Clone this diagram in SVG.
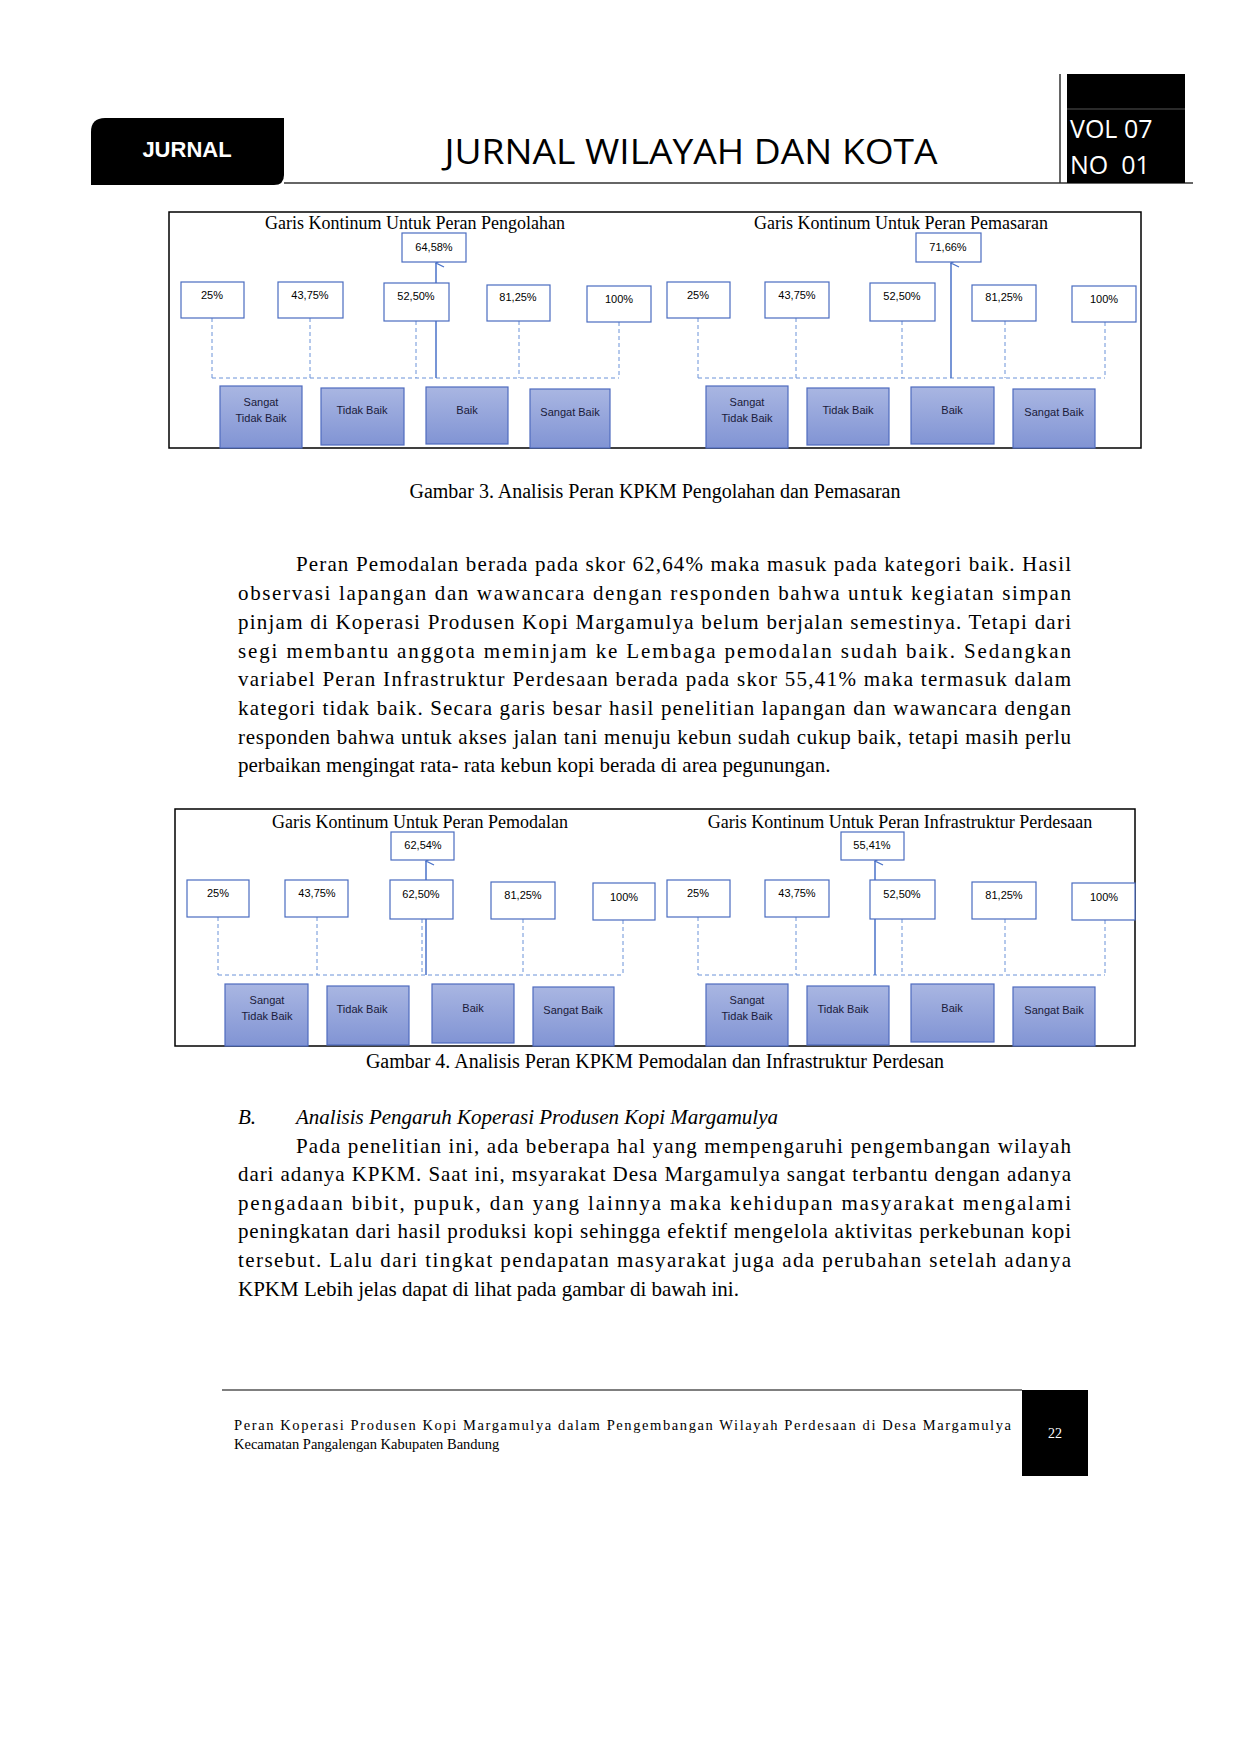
<svg xmlns="http://www.w3.org/2000/svg" width="1240" height="1754" viewBox="0 0 1240 1754">
<style>
.ser{font-family:"Liberation Serif","Times New Roman",serif;fill:#000}
.body{font-size:21px}
.ttl{font-size:18px;text-anchor:middle}
.cap{font-size:20px;text-anchor:middle}
.val rect{fill:#fff;stroke:#4a6cc0;stroke-width:1.2}
.val text,.cat text{font-family:"Liberation Sans",Arial,sans-serif;font-size:11px;text-anchor:middle}
.val text{fill:#000}
.cat rect{fill:url(#g);stroke:#4f6bbf;stroke-width:1.2}
.cat text{fill:#1a1a3a}
.dash{stroke:#6a92d8;stroke-width:1;stroke-dasharray:4 3;fill:none}
.arr{stroke:#4a72c8;stroke-width:1.5;fill:none}
.frame{fill:none;stroke:#000;stroke-width:1.5}
</style>
<defs>
<linearGradient id="g" x1="0" y1="0" x2="0" y2="1"><stop offset="0" stop-color="#a9b6e2"/><stop offset="1" stop-color="#8194d4"/></linearGradient>
<marker id="ah" viewBox="0 0 10 10" refX="5" refY="1" markerWidth="10" markerHeight="10" orient="auto-start-reverse" markerUnits="userSpaceOnUse"><path d="M1,9 L5,1 L9,9" fill="none" stroke="#4a72c8" stroke-width="1.3"/></marker>
</defs>
<rect width="1240" height="1754" fill="#fff"/>
<!-- header -->
<g id="header">
<path d="M105,118 H284 V175 Q284,185 274,185 H91 V132 Q91,118 105,118 Z" fill="#000"/>
<text x="187" y="157" font-family="Liberation Sans,Arial,sans-serif" font-size="22" font-weight="bold" fill="#fff" text-anchor="middle">JURNAL</text>
<text x="691" y="164" font-family="Open Sans,Liberation Sans,sans-serif" font-size="34" text-anchor="middle" textLength="493" lengthAdjust="spacingAndGlyphs">JURNAL WILAYAH DAN KOTA</text>
<line x1="284" y1="183" x2="1193" y2="183" stroke="#333" stroke-width="1.5"/>
<line x1="1060" y1="74" x2="1060" y2="183" stroke="#333" stroke-width="1.5"/>
<rect x="1067" y="74" width="118" height="109" fill="#000"/>
<line x1="1067" y1="109" x2="1185" y2="109" stroke="#555" stroke-width="1"/>
<text x="1070" y="138" font-family="Open Sans,Liberation Sans,sans-serif" font-size="25" fill="#fff">VOL 07</text>
<text x="1070" y="174" font-family="Open Sans,Liberation Sans,sans-serif" font-size="25" fill="#fff" xml:space="preserve">NO  01</text>
</g>
<!-- Figure 3 -->
<g id="fig3">
<rect class="frame" x="169" y="212" width="972" height="236"/>
<text class="ser ttl" x="415" y="229">Garis Kontinum Untuk Peran Pengolahan</text>
<text class="ser ttl" x="901" y="229">Garis Kontinum Untuk Peran Pemasaran</text>
<g id="f3-connectors">
<path class="dash" d="M212,318 V378 M310,318 V378 M416,321 V378 M519,321 V378 M619,322 V378 M212,378 H619"/>
<path class="dash" d="M698,318 V378 M796,318 V378 M902,321 V378 M1005,321 V378 M1105,322 V378 M698,378 H1105"/>
<line class="arr" x1="436" y1="378" x2="436" y2="263" marker-end="url(#ah)"/>
<line class="arr" x1="951" y1="378" x2="951" y2="263" marker-end="url(#ah)"/>
</g>
<g id="f3-top-l" class="val"><rect x="402" y="233" width="64" height="29"/><text x="434" y="251">64,58%</text></g>
<g id="f3-top-r" class="val"><rect x="916" y="233" width="65" height="29"/><text x="948" y="251">71,66%</text></g>
<g id="f3-left-vals" class="val">
<rect x="181" y="282" width="63" height="36"/><text x="212" y="299">25%</text>
<rect x="278" y="282" width="65" height="36"/><text x="310" y="299">43,75%</text>
<rect x="384" y="283" width="65" height="38"/><text x="416" y="300">52,50%</text>
<rect x="487" y="285" width="63" height="36"/><text x="518" y="301">81,25%</text>
<rect x="587" y="286" width="64" height="36"/><text x="619" y="303">100%</text>
</g>
<g id="f3-right-vals" class="val">
<rect x="667" y="282" width="63" height="36"/><text x="698" y="299">25%</text>
<rect x="765" y="282" width="64" height="36"/><text x="797" y="299">43,75%</text>
<rect x="870" y="283" width="65" height="38"/><text x="902" y="300">52,50%</text>
<rect x="972" y="285" width="64" height="36"/><text x="1004" y="301">81,25%</text>
<rect x="1072" y="286" width="64" height="36"/><text x="1104" y="303">100%</text>
</g>
<g id="f3-left-cats" class="cat">
<rect x="220" y="386" width="82" height="62"/><text x="261" y="406">Sangat</text><text x="261" y="422">Tidak Baik</text>
<rect x="321" y="388" width="83" height="57"/><text x="362" y="414">Tidak Baik</text>
<rect x="426" y="387" width="82" height="57"/><text x="467" y="414">Baik</text>
<rect x="530" y="389" width="80" height="59"/><text x="570" y="416">Sangat Baik</text>
</g>
<g id="f3-right-cats" class="cat">
<rect x="706" y="386" width="82" height="62"/><text x="747" y="406">Sangat</text><text x="747" y="422">Tidak Baik</text>
<rect x="807" y="388" width="82" height="57"/><text x="848" y="414">Tidak Baik</text>
<rect x="911" y="387" width="83" height="57"/><text x="952" y="414">Baik</text>
<rect x="1013" y="389" width="82" height="59"/><text x="1054" y="416">Sangat Baik</text>
</g>
</g>
<text class="ser cap" x="655" y="498">Gambar 3. Analisis Peran KPKM Pengolahan dan Pemasaran</text>
<!-- paragraph 1 -->
<g class="ser body">
<text x="296" y="571" textLength="775" lengthAdjust="spacing">Peran Pemodalan berada pada skor 62,64% maka masuk pada kategori baik. Hasil</text>
<text x="238" y="600" textLength="833" lengthAdjust="spacing">observasi lapangan dan wawancara dengan responden bahwa untuk kegiatan simpan</text>
<text x="238" y="629" textLength="833" lengthAdjust="spacing">pinjam di Koperasi Produsen Kopi Margamulya belum berjalan semestinya. Tetapi dari</text>
<text x="238" y="658" textLength="833" lengthAdjust="spacing">segi membantu anggota meminjam ke Lembaga pemodalan sudah baik. Sedangkan</text>
<text x="238" y="686" textLength="833" lengthAdjust="spacing">variabel Peran Infrastruktur Perdesaan berada pada skor 55,41% maka termasuk dalam</text>
<text x="238" y="715" textLength="833" lengthAdjust="spacing">kategori tidak baik. Secara garis besar hasil penelitian lapangan dan wawancara dengan</text>
<text x="238" y="744" textLength="833" lengthAdjust="spacing">responden bahwa untuk akses jalan tani menuju kebun sudah cukup baik, tetapi masih perlu</text>
<text x="238" y="772">perbaikan mengingat rata- rata kebun kopi berada di area pegunungan.</text>
</g>
<!-- Figure 4 -->
<g id="fig4">
<rect class="frame" x="175" y="809" width="960" height="237"/>
<text class="ser ttl" x="420" y="828">Garis Kontinum Untuk Peran Pemodalan</text>
<text class="ser ttl" x="900" y="828">Garis Kontinum Untuk Peran Infrastruktur Perdesaan</text>
<g id="f4-connectors">
<path class="dash" d="M218,917 V975 M317,917 V975 M422,919 V975 M523,919 V975 M623,920 V975 M218,975 H623"/>
<path class="dash" d="M698,917 V975 M796,917 V975 M902,919 V975 M1005,919 V975 M1105,920 V975 M698,975 H1105"/>
<line class="arr" x1="426" y1="975" x2="426" y2="861" marker-end="url(#ah)"/>
<line class="arr" x1="875" y1="975" x2="875" y2="861" marker-end="url(#ah)"/>
</g>
<g id="f4-top-l" class="val"><rect x="391" y="832" width="63" height="28"/><text x="423" y="849">62,54%</text></g>
<g id="f4-top-r" class="val"><rect x="841" y="832" width="63" height="28"/><text x="872" y="849">55,41%</text></g>
<g id="f4-left-vals" class="val">
<rect x="187" y="880" width="62" height="37"/><text x="218" y="897">25%</text>
<rect x="285" y="880" width="63" height="37"/><text x="317" y="897">43,75%</text>
<rect x="390" y="880" width="63" height="39"/><text x="421" y="898">62,50%</text>
<rect x="491" y="882" width="64" height="37"/><text x="523" y="899">81,25%</text>
<rect x="593" y="883" width="62" height="37"/><text x="624" y="901">100%</text>
</g>
<g id="f4-right-vals" class="val">
<rect x="667" y="880" width="63" height="37"/><text x="698" y="897">25%</text>
<rect x="765" y="880" width="64" height="37"/><text x="797" y="897">43,75%</text>
<rect x="870" y="880" width="65" height="39"/><text x="902" y="898">52,50%</text>
<rect x="972" y="882" width="64" height="37"/><text x="1004" y="899">81,25%</text>
<rect x="1072" y="883" width="63" height="37"/><text x="1104" y="901">100%</text>
</g>
<g id="f4-left-cats" class="cat">
<rect x="225" y="984" width="83" height="62"/><text x="267" y="1004">Sangat</text><text x="267" y="1020">Tidak Baik</text>
<rect x="327" y="986" width="82" height="59"/><text x="362" y="1013">Tidak Baik</text>
<rect x="432" y="984" width="82" height="59"/><text x="473" y="1012">Baik</text>
<rect x="533" y="987" width="81" height="59"/><text x="573" y="1014">Sangat Baik</text>
</g>
<g id="f4-right-cats" class="cat">
<rect x="706" y="984" width="82" height="62"/><text x="747" y="1004">Sangat</text><text x="747" y="1020">Tidak Baik</text>
<rect x="807" y="986" width="82" height="59"/><text x="843" y="1013">Tidak Baik</text>
<rect x="911" y="984" width="83" height="58"/><text x="952" y="1012">Baik</text>
<rect x="1013" y="987" width="82" height="59"/><text x="1054" y="1014">Sangat Baik</text>
</g>
</g>
<text class="ser cap" x="655" y="1068">Gambar 4. Analisis Peran KPKM Pemodalan dan Infrastruktur Perdesan</text>
<!-- section B -->
<g class="ser body">
<text x="238" y="1124" font-style="italic">B.</text>
<text x="296" y="1124" font-style="italic">Analisis Pengaruh Koperasi Produsen Kopi Margamulya</text>
<text x="296" y="1153" textLength="775" lengthAdjust="spacing">Pada penelitian ini, ada beberapa hal yang mempengaruhi pengembangan wilayah</text>
<text x="238" y="1181" textLength="833" lengthAdjust="spacing">dari adanya KPKM. Saat ini, msyarakat Desa Margamulya sangat terbantu dengan adanya</text>
<text x="238" y="1210" textLength="833" lengthAdjust="spacing">pengadaan bibit, pupuk, dan yang lainnya maka kehidupan masyarakat mengalami</text>
<text x="238" y="1238" textLength="833" lengthAdjust="spacing">peningkatan dari hasil produksi kopi sehingga efektif mengelola aktivitas perkebunan kopi</text>
<text x="238" y="1267" textLength="833" lengthAdjust="spacing">tersebut. Lalu dari tingkat pendapatan masyarakat juga ada perubahan setelah adanya</text>
<text x="238" y="1296">KPKM Lebih jelas dapat di lihat pada gambar di bawah ini.</text>
</g>
<!-- footer -->
<g id="footer">
<line x1="222" y1="1390" x2="1022" y2="1390" stroke="#000" stroke-width="1.2"/>
<rect x="1022" y="1390" width="66" height="86" fill="#000"/>
<text x="1055" y="1438" font-family="Liberation Serif,serif" font-size="14" fill="#fff" text-anchor="middle">22</text>
<text class="ser" x="234" y="1430" font-size="14.5" textLength="777" lengthAdjust="spacing">Peran Koperasi Produsen Kopi Margamulya dalam Pengembangan Wilayah Perdesaan di Desa Margamulya</text>
<text class="ser" x="234" y="1449" font-size="14.5">Kecamatan Pangalengan Kabupaten Bandung</text>
</g>
</svg>
